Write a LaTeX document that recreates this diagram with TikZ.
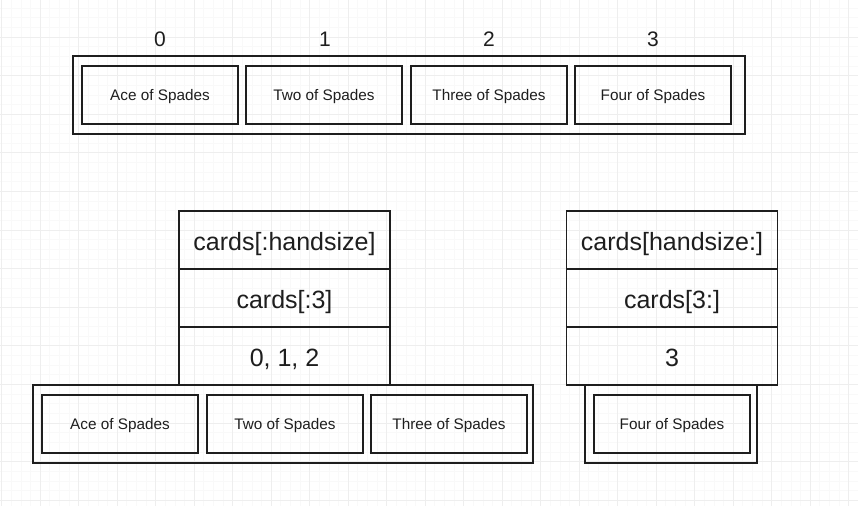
\documentclass[tikz,border=0pt]{standalone}
\usepackage{fontspec}
\setmainfont{Liberation Sans}
\definecolor{ink}{HTML}{1E1E1E}
\definecolor{gridc}{HTML}{EEEEEE}
\definecolor{gridm}{HTML}{F9F9F9}
\begin{document}
\begin{tikzpicture}[x=1pt,y=-1pt,
  box/.style={draw=ink,line width=1.5pt,inner sep=0pt,text=ink},
  outerbox/.style={box,minimum height=78pt},
  cardbox/.style={box,minimum width=156pt,minimum height=58pt,text height=10.8pt,text depth=0pt,font=\fontsize{15.3}{18}\selectfont},
  rowbox/.style={box,minimum width=211pt,minimum height=58pt,text height=21pt,text depth=0pt,font=\fontsize{25}{30}\selectfont},
  idx/.style={inner sep=0pt,text=ink,font=\fontsize{21}{25}\selectfont}]
\useasboundingbox (0,0) rectangle (858,506);
\fill[white] (0,0) rectangle (858,506);
% faint grid
\foreach \i in {0,...,88} {\draw[gridm,line width=0.5pt] ({1.5+\i*9.625},0) -- ({1.5+\i*9.625},506);}
\foreach \i in {0,...,53} {\draw[gridm,line width=0.5pt] (0,{-1.7+\i*9.65}) -- (858,{-1.7+\i*9.65});}
\foreach \i in {0,...,22} {\draw[gridc,line width=0.8pt] ({1.5+\i*38.5},0) -- ({1.5+\i*38.5},506);}
\foreach \i in {0,...,13} {\draw[gridc,line width=0.8pt] (0,{-1.7+\i*38.6}) -- (858,{-1.7+\i*38.6});}
% top array
\node[outerbox,minimum width=672pt] (toparr) at (409,95) {};
\node[cardbox] (t0) at (160,95) {Ace of Spades};
\node[cardbox] (t1) at (324,95) {Two of Spades};
\node[cardbox] (t2) at (489,95) {Three of Spades};
\node[cardbox] (t3) at (653,95) {Four of Spades};
\node[idx] (i0) at (160,39) {0};
\node[idx] (i1) at (325,39) {1};
\node[idx] (i2) at (489,39) {2};
\node[idx] (i3) at (653,39) {3};
% left stack
\node[rowbox] (l1) at (284.5,240) {cards[:handsize]};
\node[rowbox] (l2) at (284.5,298) {cards[:3]};
\node[rowbox] (l3) at (284.5,356) {0, 1, 2};
% right stack
\node[rowbox] (r1) at (672,240) {cards[handsize:]};
\node[rowbox] (r2) at (672,298) {cards[3:]};
\node[rowbox] (r3) at (672,356) {3};
% bottom left array
\node[outerbox,minimum width=500pt] (botl) at (283,424) {};
\node[cardbox] (b0) at (120,424) {Ace of Spades};
\node[cardbox] (b1) at (285,424) {Two of Spades};
\node[cardbox] (b2) at (449,424) {Three of Spades};
% bottom right array
\node[outerbox,minimum width=172pt] (botr) at (671,424) {};
\node[cardbox] (b3) at (672,424) {Four of Spades};
\end{tikzpicture}
\end{document}
